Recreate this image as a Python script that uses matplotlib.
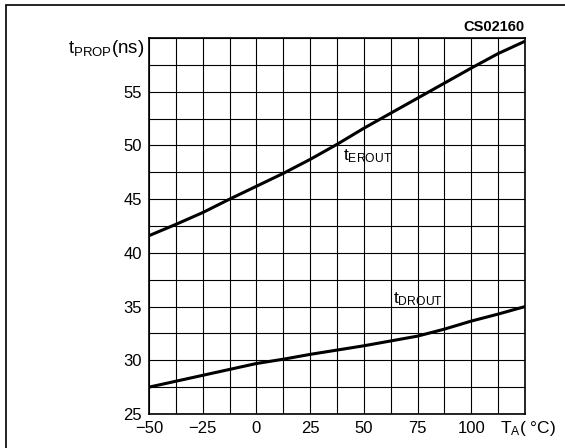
import numpy as np
import matplotlib
matplotlib.use("Agg")
import matplotlib.pyplot as plt
from matplotlib.patches import Rectangle
from matplotlib.transforms import blended_transform_factory

plt.rcParams['font.family'] = ['Liberation Sans', 'DejaVu Sans']
plt.rcParams['mathtext.fontset'] = 'custom'
plt.rcParams['mathtext.rm'] = 'Liberation Sans'
plt.rcParams['mathtext.it'] = 'Liberation Sans'

# temperature (deg C) and propagation delays (ns)
temp_erout = [-50, -37.5, -25, -12.5, 0, 12.5, 25, 37.5, 50, 62.5, 75, 87.5, 100, 112.5, 125]
t_erout = [41.6, 42.65, 43.75, 45.0, 46.2, 47.4, 48.7, 50.1, 51.6, 53.0, 54.4, 55.8, 57.2, 58.55, 59.7]

temp_drout = [-50, -25, 0, 12.5, 25, 37.5, 50, 62.5, 75, 87.5, 100, 112.5, 125]
t_drout = [27.5, 28.6, 29.7, 30.1, 30.55, 30.95, 31.35, 31.8, 32.25, 32.9, 33.65, 34.3, 35.0]

x_ticks = [-50, -25, 0, 25, 50, 75, 100]
y_ticks = [25, 30, 35, 40, 45, 50, 55]

fig = plt.figure(figsize=(5.65, 4.48), dpi=100)
ax = fig.add_axes([149 / 565, 1 - 414 / 448, 376 / 565, 376 / 448])

ax.plot(temp_erout, t_erout, color='black', lw=2.2, solid_capstyle='butt',
        solid_joinstyle='round', zorder=3)
ax.plot(temp_drout, t_drout, color='black', lw=2.2, solid_capstyle='butt',
        solid_joinstyle='round', zorder=3)

ax.set_xlim(-50, 125)
ax.set_ylim(25, 60)
ax.set_xticks(np.arange(-50, 125.1, 12.5))
ax.set_yticks(np.arange(25, 60.1, 2.5))
ax.grid(True, color='black', lw=0.8)
ax.tick_params(length=0, labelsize=12, pad=5)

ax.set_xticklabels([f'{v:g}'.replace('-', '\u2212') if v in x_ticks else '' for v in ax.get_xticks()])
ax.set_yticklabels([f'{v:g}' if v in y_ticks else '' for v in ax.get_yticks()])
for sp in ax.spines.values():
    sp.set_linewidth(1.2)

# axis titles placed where the last tick labels would be
bt = blended_transform_factory(ax.transAxes, ax.transData)
ax.text(-0.012, 60, r'$\mathrm{t}_{\mathrm{PROP}}$(ns)', transform=bt,
        ha='right', va='top', fontsize=13.5)
bx = blended_transform_factory(ax.transData, ax.transAxes)
ax.text(113.3, -0.012, r'$\mathrm{T}_{\mathrm{A}}$( °C)', transform=bx,
        ha='left', va='top', fontsize=12.5)

ax.text(40.5, 48.6, r'$\mathrm{t}_{\mathrm{EROUT}}$', fontsize=12.5, ha='left', va='baseline')
ax.text(63.5, 35.3, r'$\mathrm{t}_{\mathrm{DROUT}}$', fontsize=12.5, ha='left', va='baseline')

ax.text(1.0, 1.01, 'CS02160', transform=ax.transAxes, ha='right', va='bottom',
        fontsize=10.5, fontweight='bold')

# outer frame, right and bottom sides fall outside the picture
fig.add_artist(Rectangle((6 / 565, -0.1), 1.2, 1.1 - 5 / 448, transform=fig.transFigure,
                         fill=False, lw=1.2, edgecolor='black'))

fig.savefig('out.png', dpi=100)
